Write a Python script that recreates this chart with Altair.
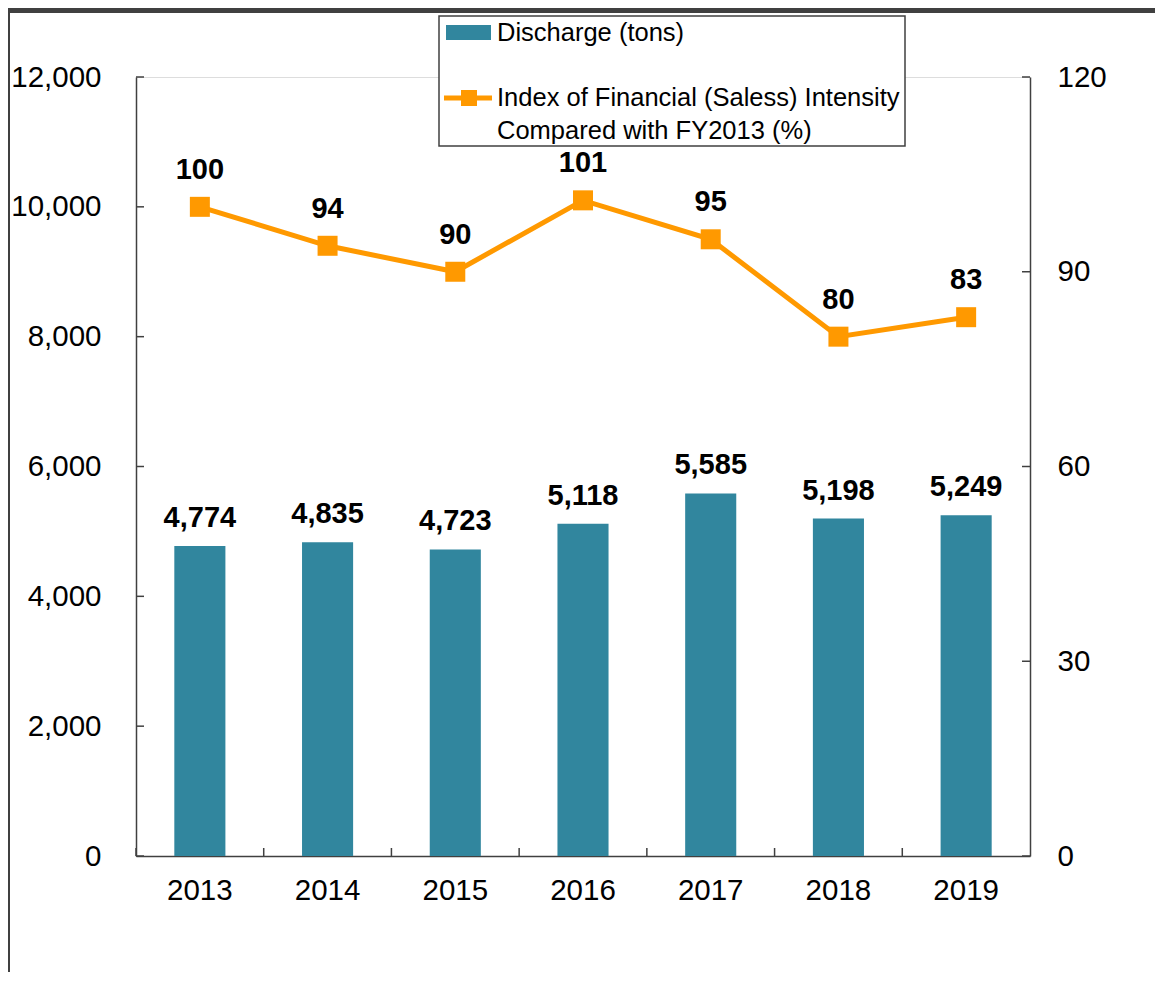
import altair as alt
import pandas as pd

years = ["2013", "2014", "2015", "2016", "2017", "2018", "2019"]
discharge = [4774, 4835, 4723, 5118, 5585, 5198, 5249]
intensity = [100, 94, 90, 101, 95, 80, 83]
left_ticks = [0, 2000, 4000, 6000, 8000, 10000, 12000]
right_ticks = [0, 30, 60, 90, 120]
bar_name = "Discharge (tons)"
line_name_1 = "Index of Financial (Saless) Intensity"
line_name_2 = "Compared with FY2013 (%)"

BAR_COLOR = "#31869E"
LINE_COLOR = "#FF9900"
AXIS_COLOR = "#404040"
FONT = "Liberation Sans"
W, H = 894, 779
AX_FS = 29.5
LAB_FS = 29
LEG_FS = 25.5

df = pd.DataFrame({"year": years, "discharge": discharge, "intensity": intensity})
lt = pd.DataFrame({"v": left_ticks})
rt = pd.DataFrame({"v": right_ticks})
one = pd.DataFrame({"k": [0]})

x_scale = alt.Scale(paddingInner=0.6, paddingOuter=0.3)
x_axis = alt.Axis(title=None, ticks=False, labelFontSize=AX_FS, labelColor="black",
                  labelPadding=20, domainColor=AXIS_COLOR, domainWidth=1.5,
                  labelAngle=0, labelFont=FONT)
X = alt.X("year:N", scale=x_scale, axis=x_axis, sort=years)

yl_scale = alt.Scale(domain=[0, 12000], nice=False, zero=True)
yr_scale = alt.Scale(domain=[0, 120], nice=False, zero=True)

base = alt.Chart(df)

bars = base.mark_bar(color=BAR_COLOR).encode(
    x=X,
    y=alt.Y("discharge:Q", scale=yl_scale,
            axis=alt.Axis(title=None, values=left_ticks, ticks=False,
                          labelExpr="format(datum.value, ',')",
                          grid=False, labelFontSize=AX_FS, labelColor="black",
                          labelPadding=35, domainColor=AXIS_COLOR, domainWidth=1.5,
                          labelFont=FONT)),
)
bar_labels = base.mark_text(fontSize=LAB_FS, fontWeight="bold", font=FONT,
                            baseline="bottom", dy=-13, color="black").encode(
    x=X,
    y=alt.Y("discharge:Q", scale=yl_scale, axis=None),
    text=alt.Text("discharge:Q", format=","),
)

line = base.mark_line(color=LINE_COLOR, strokeWidth=5).encode(
    x=X,
    y=alt.Y("intensity:Q", scale=yr_scale,
            axis=alt.Axis(title=None, orient="right", values=right_ticks, ticks=False,
                          grid=False, labelFontSize=AX_FS, labelColor="black",
                          labelPadding=27, domainColor=AXIS_COLOR, domainWidth=1.5,
                          labelFont=FONT)),
)
points = base.mark_square(color=LINE_COLOR, size=400, opacity=1).encode(
    x=X,
    y=alt.Y("intensity:Q", scale=yr_scale, axis=None),
)
line_labels = base.mark_text(fontSize=LAB_FS, fontWeight="bold", font=FONT,
                             baseline="bottom", dy=-22, color="black").encode(
    x=X,
    y=alt.Y("intensity:Q", scale=yr_scale, axis=None),
    text="intensity:Q",
)

# inward tick marks
left_tick_marks = alt.Chart(lt).mark_rule(color=AXIS_COLOR, strokeWidth=1.5).encode(
    y=alt.Y("v:Q", scale=yl_scale, axis=None), x=alt.value(0), x2=alt.value(8))
right_tick_marks = alt.Chart(rt).mark_rule(color=AXIS_COLOR, strokeWidth=1.5).encode(
    y=alt.Y("v:Q", scale=yr_scale, axis=None), x=alt.value(W - 8), x2=alt.value(W))
x_tick_marks = base.mark_rule(color=AXIS_COLOR, strokeWidth=1.5).encode(
    x=alt.X("year:N", scale=alt.Scale(paddingInner=0, paddingOuter=0), axis=None,
            sort=years, bandPosition=0),
    y=alt.value(H), y2=alt.value(H - 8))

# outer frame (top and left edges)
frame_top = alt.Chart(one).mark_rect(color=AXIS_COLOR).encode(
    x=alt.value(-128), x2=alt.value(1019), y=alt.value(-69), y2=alt.value(-64))
frame_left = alt.Chart(one).mark_rect(color=AXIS_COLOR).encode(
    x=alt.value(-128), x2=alt.value(-126), y=alt.value(-69), y2=alt.value(895))

# legend
leg_box = alt.Chart(one).mark_rect(fill="white", stroke=AXIS_COLOR, strokeWidth=1.5).encode(
    x=alt.value(303), x2=alt.value(769), y=alt.value(-61), y2=alt.value(69))
leg_swatch = alt.Chart(one).mark_rect(fill=BAR_COLOR).encode(
    x=alt.value(310), x2=alt.value(355), y=alt.value(-52), y2=alt.value(-37))
leg_text1 = alt.Chart(one).mark_text(align="left", baseline="middle", fontSize=LEG_FS,
                                     font=FONT, color="black").encode(
    x=alt.value(361), y=alt.value(-44), text=alt.value(bar_name))
leg_line = alt.Chart(one).mark_rule(color=LINE_COLOR, strokeWidth=5).encode(
    x=alt.value(308), x2=alt.value(356), y=alt.value(21))
leg_square = alt.Chart(one).mark_square(color=LINE_COLOR, size=256, opacity=1).encode(
    x=alt.value(333), y=alt.value(21))
leg_text2 = alt.Chart(one).mark_text(align="left", baseline="middle", fontSize=LEG_FS,
                                     font=FONT, color="black").encode(
    x=alt.value(361), y=alt.value(21), text=alt.value(line_name_1))
leg_text3 = alt.Chart(one).mark_text(align="left", baseline="middle", fontSize=LEG_FS,
                                     font=FONT, color="black").encode(
    x=alt.value(361), y=alt.value(54), text=alt.value(line_name_2))

main = alt.layer(
    frame_top, frame_left,
    bars, bar_labels, left_tick_marks,
    line, points, line_labels, right_tick_marks,
    leg_box, leg_swatch, leg_text1, leg_line, leg_square, leg_text2, leg_text3,
).resolve_scale(y="independent")

chart = alt.layer(main, x_tick_marks).resolve_scale(
    x="independent", y="independent"
).properties(
    width=W, height=H, padding=0
).configure_view(stroke=None).configure(font=FONT)

chart.save("out.html", embed_options={"renderer": "svg", "actions": False})
